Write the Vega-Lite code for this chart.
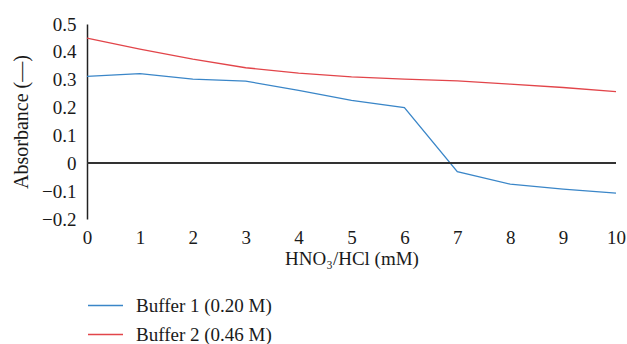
{
  "$schema": "https://vega.github.io/schema/vega-lite/v6.json",
  "autosize": {"type": "none"},
  "width": 529,
  "height": 195,
  "padding": {"left": 87, "top": 24, "right": 11, "bottom": 125},
  "background": "white",
  "config": {
    "view": {"stroke": null},
    "font": "Liberation Serif",
    "axis": {"labelFont": "Liberation Serif", "titleFont": "Liberation Serif", "labelFontSize": 19, "titleFontSize": 19, "labelColor": "#1a1a1a", "titleColor": "#1a1a1a", "titleFontWeight": "normal", "grid": false, "ticks": false, "labelOverlap": false},
    "legend": {"labelFont": "Liberation Serif", "labelFontSize": 19, "labelColor": "#1a1a1a"}
  },
  "data": {"values": [
    {"c": 0, "a": 0.312, "s": "Buffer 1 (0.20 M)"},
    {"c": 1, "a": 0.322, "s": "Buffer 1 (0.20 M)"},
    {"c": 2, "a": 0.302, "s": "Buffer 1 (0.20 M)"},
    {"c": 3, "a": 0.295, "s": "Buffer 1 (0.20 M)"},
    {"c": 4, "a": 0.262, "s": "Buffer 1 (0.20 M)"},
    {"c": 5, "a": 0.226, "s": "Buffer 1 (0.20 M)"},
    {"c": 6, "a": 0.200, "s": "Buffer 1 (0.20 M)"},
    {"c": 7, "a": -0.030, "s": "Buffer 1 (0.20 M)"},
    {"c": 8, "a": -0.075, "s": "Buffer 1 (0.20 M)"},
    {"c": 9, "a": -0.093, "s": "Buffer 1 (0.20 M)"},
    {"c": 10, "a": -0.107, "s": "Buffer 1 (0.20 M)"},
    {"c": 0, "a": 0.449, "s": "Buffer 2 (0.46 M)"},
    {"c": 1, "a": 0.410, "s": "Buffer 2 (0.46 M)"},
    {"c": 2, "a": 0.374, "s": "Buffer 2 (0.46 M)"},
    {"c": 3, "a": 0.343, "s": "Buffer 2 (0.46 M)"},
    {"c": 4, "a": 0.324, "s": "Buffer 2 (0.46 M)"},
    {"c": 5, "a": 0.310, "s": "Buffer 2 (0.46 M)"},
    {"c": 6, "a": 0.302, "s": "Buffer 2 (0.46 M)"},
    {"c": 7, "a": 0.296, "s": "Buffer 2 (0.46 M)"},
    {"c": 8, "a": 0.284, "s": "Buffer 2 (0.46 M)"},
    {"c": 9, "a": 0.272, "s": "Buffer 2 (0.46 M)"},
    {"c": 10, "a": 0.257, "s": "Buffer 2 (0.46 M)"}
  ]},
  "layer": [
    {
      "mark": {"type": "line", "strokeWidth": 1.3},
      "encoding": {
        "x": {"field": "c", "type": "quantitative", "scale": {"domain": [0, 10], "nice": false},
              "axis": {"values": [0,1,2,3,4,5,6,7,8,9,10], "tickCount": 20, "format": "d", "domain": false, "labelPadding": 9, "labelOverlap": false, "labelFlush": false, "title": "HNO₃/HCl (mM)", "titlePadding": 2}},
        "y": {"field": "a", "type": "quantitative", "scale": {"domain": [-0.2, 0.5], "nice": false, "zero": false},
              "axis": {"values": [-0.2,-0.1,0,0.1,0.2,0.3,0.4,0.5], "tickCount": 20, "domain": true, "domainColor": "#222", "domainWidth": 1.5, "labelPadding": 11, "labelOverlap": false, "labelFlush": false,
                       "labelExpr": "datum.value == 0 ? '0' : format(datum.value, '.1f')", "title": "Absorbance (—)", "titleFontSize": 20, "titlePadding": 10}},
        "color": {"field": "s", "type": "nominal",
                  "scale": {"domain": ["Buffer 1 (0.20 M)", "Buffer 2 (0.46 M)"], "range": ["#3a86c8", "#e2454a"]},
                  "legend": {"title": null, "orient": "none", "legendX": 0, "legendY": 263, "direction": "vertical", "symbolType": "stroke", "symbolSize": 1225, "symbolStrokeWidth": 1.3, "rowPadding": -11, "labelOffset": 12}}
      }
    },
    {
      "mark": {"type": "rule", "color": "#333", "strokeWidth": 1.5},
      "encoding": {"y": {"datum": 0}}
    }
  ]
}
